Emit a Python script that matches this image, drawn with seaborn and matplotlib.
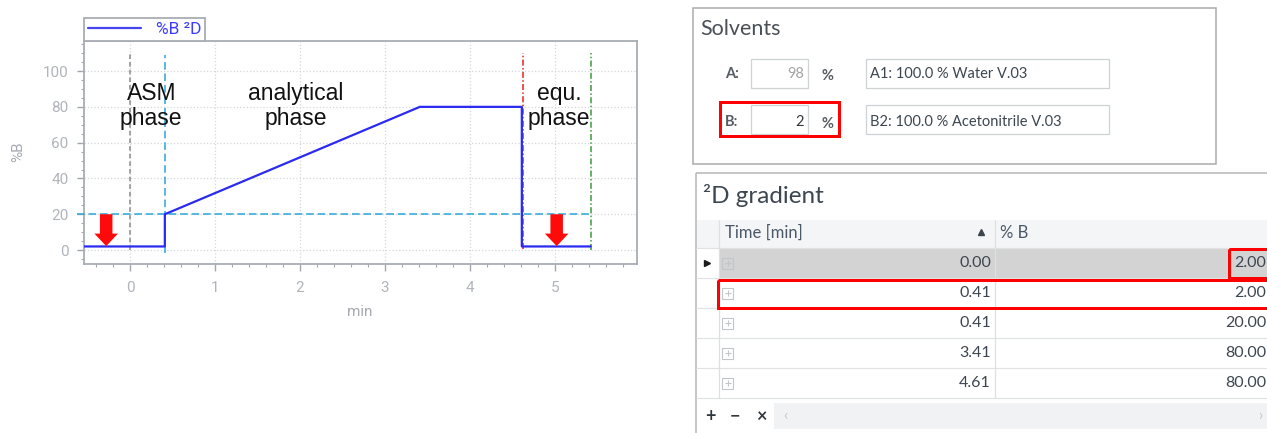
import matplotlib
matplotlib.use("Agg")
import matplotlib.pyplot as plt
import seaborn as sns
from matplotlib import font_manager
from matplotlib.patches import Rectangle
from matplotlib.ticker import MultipleLocator

# ---------------- data ----------------
chart_time = [-0.6, 0.41, 0.41, 3.41, 4.61, 4.61, 5.42]
chart_b = [2, 2, 20, 80, 80, 2, 2]
series_label = "%B ²D"

marker_x = [0.0, 0.41, 4.625, 5.42]          # phase boundary lines
marker_colors = ["#8a8a8a", "#2aa6d6", "#e52222", "#3c9c3c"]
marker_styles = [(0, (3, 2)), (0, (5, 2.5)), (0, (4, 1.5, 1, 1.5)), (0, (4, 1.5, 1, 1.5))]
marker_ymin = [0, -1.5, 0.5, 0]
marker_ymax = [110, 109, 110, 110]
threshold_b = 20
arrow_x = [-0.28, 5.02]

phase_labels = ["ASM\nphase", "analytical\nphase", "equ.\nphase"]
phase_x = [0.25, 1.95, 5.05]
phase_y = [80.5, 80.5, 80.5]

x_ticks = [0, 1, 2, 3, 4, 5]
y_ticks = [0, 20, 40, 60, 80, 100]

solvent_names = ["A:", "B:"]
solvent_pct = ["98", "2"]
solvent_desc = ["A1: 100.0 % Water V.03", "B2: 100.0 % Acetonitrile V.03"]

table_time = ["0.00", "0.41", "0.41", "3.41", "4.61"]
table_b = ["2.00", "2.00", "20.00", "80.00", "80.00"]

# ---------------- fonts ----------------
names = {f.name for f in font_manager.fontManager.ttflist}
def pick(*cands):
    for c in cands:
        if c in names:
            return c
    return "DejaVu Sans"

F_TICK = pick("Roboto", "Liberation Sans", "DejaVu Sans")
F_ARIAL = pick("Liberation Sans", "DejaVu Sans")
F_UI = pick("Lato", "Open Sans", "Noto Sans", "DejaVu Sans")

sns.set_theme(style="white")
plt.rcParams["font.family"] = [F_TICK, "DejaVu Sans"]

W, H = 1267, 433
fig = plt.figure(figsize=(W / 100, H / 100), dpi=100)
fig.patch.set_facecolor("white")

# ---------------- chart ----------------
ax_l, ax_t, ax_r, ax_b = 84, 41, 637, 264
ax = fig.add_axes([ax_l / W, 1 - ax_b / H, (ax_r - ax_l) / W, (ax_b - ax_t) / H])
ax.set_zorder(2)
ax.set_facecolor("white")

sns.lineplot(x=chart_time, y=chart_b, sort=False, estimator=None, color="#2a2af2",
             linewidth=1.6, label=series_label, ax=ax, zorder=5)

ax.set_xlim(-0.541, 5.965)
ax.set_ylim(-7.8, 116.8)

ax.hlines(threshold_b, -0.62, marker_x[-1], colors="#2aa6d6", linestyles=(0, (5, 2.5)),
          linewidth=1.1, clip_on=False, zorder=4)
for x, c, ls, y0, y1 in zip(marker_x, marker_colors, marker_styles, marker_ymin, marker_ymax):
    ax.vlines(x, y0, y1, colors=c, linestyles=ls, linewidth=1.1, zorder=4)

for x in arrow_x:
    ax.annotate("", xy=(x, 2.2), xytext=(x, threshold_b),
                arrowprops=dict(arrowstyle="simple,head_width=0.85,head_length=0.45,tail_width=0.45",
                                mutation_scale=20, color="#ff0a0a", lw=0, shrinkA=0, shrinkB=0),
                zorder=6)

for s, x, y in zip(phase_labels, phase_x, phase_y):
    ax.text(x, y, s, ha="center", va="center", fontsize=16.5, family=F_ARIAL,
            color="#111111", linespacing=1.12, zorder=7)

ax.set_xticks(x_ticks)
ax.set_yticks(y_ticks)
ax.xaxis.set_minor_locator(MultipleLocator(0.2))
ax.yaxis.set_minor_locator(MultipleLocator(5))
ax.grid(True, which="major", linestyle=":", color="#d4d6da", linewidth=0.9, zorder=0)
ax.tick_params(which="major", direction="out", length=5, width=1, color="#a2a6ae",
               labelcolor="#b0b4bb", labelsize=11)
ax.tick_params(which="minor", direction="out", length=2.5, width=0.8, color="#a2a6ae")
ax.tick_params(axis="y", which="major", pad=6, left=True)
ax.tick_params(axis="y", which="minor", left=True)
ax.tick_params(axis="x", which="major", pad=7.5, bottom=True)
ax.tick_params(axis="x", which="minor", bottom=True)
for sp in ax.spines.values():
    sp.set_visible(True)
    sp.set_color("#a8acb4")
    sp.set_linewidth(1.3)

ax.set_xlabel("min", color="#a6aab2", fontsize=11, va="center")
ax.set_ylabel("%B", color="#a6aab2", fontsize=11, va="center", ha="center")
ax.xaxis.set_label_coords((360 - ax_l) / (ax_r - ax_l), -(312 - ax_b) / (ax_b - ax_t))
ax.yaxis.set_label_coords((18 - ax_l) / (ax_r - ax_l), (ax_b - 152) / (ax_b - ax_t))

leg = ax.legend(loc="lower left", bbox_to_anchor=(0, 1), borderaxespad=0, frameon=True,
                fancybox=False, edgecolor="#a8acb4", framealpha=1, fontsize=12.5,
                handlelength=3.05, handletextpad=0.86, borderpad=0.22, labelcolor="#3c3cff")
leg.get_frame().set_linewidth(1.3)
for h in leg.legend_handles:
    h.set_color("#4646f0")

# ---------------- UI panels (pixel overlay) ----------------
ov = fig.add_axes([0, 0, 1, 1])
ov.set_zorder(1)
ov.set_xlim(0, W)
ov.set_ylim(H, 0)
ov.axis("off")
ov.patch.set_visible(False)

def px(v):
    return v * 0.72

def rect(x0, y0, x1, y1, ec="none", fc="none", lw=1.0, z=2):
    ov.add_patch(Rectangle((x0, y0), x1 - x0, y1 - y0, edgecolor=ec, facecolor=fc,
                           linewidth=px(lw), zorder=z, clip_on=True))

def line(x0, y0, x1, y1, c, lw=1.0, z=2):
    ov.plot([x0, x1], [y0, y1], color=c, linewidth=px(lw), zorder=z, solid_capstyle="butt")

def txt(x, y, s, size, color, ha="left", va="baseline", weight="normal", fam=None):
    ov.text(x, y, s, fontsize=size, color=color, ha=ha, va=va, fontweight=weight,
            family=[fam or F_UI, "DejaVu Sans"], zorder=5)

# Solvents panel
rect(693, 8, 1216, 164, ec="#a9a9a9", lw=1.5)
txt(700, 35, "Solvents", 15.5, "#4a5058")
row_y = [[59.3, 87.7], [105, 134]]
base_y = [78.5, 125.5]
for i in range(2):
    y0, y1 = row_y[i]
    txt(725, base_y[i], solvent_names[i], 10.5, "#565c64", weight="bold")
    rect(750.7, y0, 808.3, y1, ec="#cfd3d6", fc="white", lw=1.3)
    txt(804, base_y[i], solvent_pct[i], 10.5, "#a4a4a4" if i == 0 else "#30363e", ha="right")
    txt(827, base_y[i] + 2, "%", 10.5, "#565c64", ha="center", weight="bold")
    rect(865.7, y0, 1109.3, y1, ec="#cfd3d6", fc="white", lw=1.3)
    txt(870, base_y[i], solvent_desc[i], 10.5, "#3c4650")
rect(720, 102.3, 839, 136, ec="#ff0000", lw=3, z=4)

# 2D gradient panel
line(696, 172.7, W, 172.7, "#b4b4b4", lw=1.5)
line(696, 172.7, 696, H, "#b4b4b4", lw=1.5)
txt(702.7, 203, "²D gradient", 17.5, "#3c4650")
rect(697, 220, W, 248.3, fc="#f4f5f7", z=1)
txt(725, 233, "Time [min]", 12, "#4a5868", va="center")
ov.plot([981], [231.5], marker="^", markersize=4.5, color="#3c444c", zorder=5)
txt(1000, 233, "% B", 12, "#4a5868", va="center")

row_tops = [248.3, 278.3, 308.3, 338.3, 368.3]
rect(719, 248.3, W, 278.3, fc="#d3d3d3", z=1)
for yt in row_tops + [398.3]:
    line(696, yt, W, yt, "#e0e2e5", lw=1.2)
line(719, 220, 719, 398.3, "#dcdfe3", lw=1.2)
line(995, 220, 995, 398.3, "#dcdfe3", lw=1.2)
for yt, tt, bb in zip(row_tops, table_time, table_b):
    yc = yt + 15
    rect(722, yc - 5.5, 733, yc + 5.5, ec="#c2c5c9", fc="none", lw=1.1, z=3)
    line(724.5, yc, 730.5, yc, "#c2c5c9", lw=1.1, z=3)
    line(727.5, yc - 3, 727.5, yc + 3, "#c2c5c9", lw=1.1, z=3)
    txt(991, yc, tt, 11.5, "#3c4650", ha="right", va="center")
    txt(1266, yc, bb, 11.5, "#3c4650", ha="right", va="center")
ov.plot([706.7], [263.3], marker=">", markersize=5, color="#1c1c1c", zorder=5)
rect(1229, 249, W + 5, 278.3, ec="#ff0000", lw=3, z=4)
rect(718.3, 280, W + 5, 308.3, ec="#ff0000", lw=3, z=4)

# footer
for xx, s in zip([710, 735, 761], ["+", "−", "×"]):
    txt(xx, 416, s, 13, "#30363e", ha="center", va="center", weight="bold")
rect(774, 403, W, 429, fc="#f1f2f4", z=1)
txt(785, 416, "‹", 11, "#c4c6c9", ha="center", va="center")
txt(1260, 416, "›", 11, "#c4c6c9", ha="center", va="center")

fig.savefig("out.png", dpi=100, facecolor="white")
